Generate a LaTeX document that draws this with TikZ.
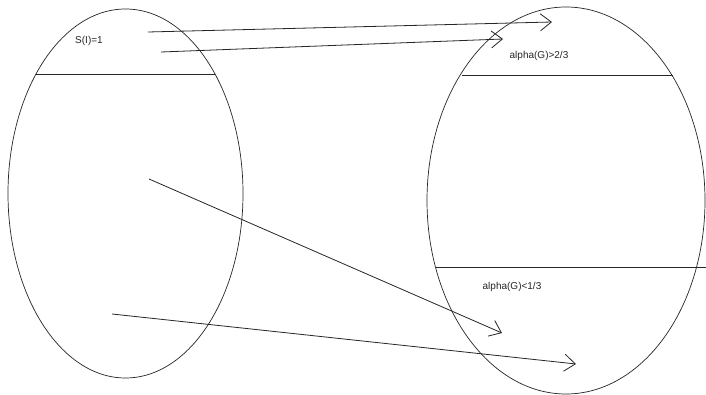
\documentclass[tikz,border=0pt]{standalone}
\usepackage{fontspec}
\setmainfont{Liberation Sans}
\usetikzlibrary{shapes.geometric,arrows.meta}
\begin{document}
\begin{tikzpicture}[x=1pt,y=-1pt,
  setshape/.style={draw=black!85, line width=0.7pt, ellipse, inner sep=0pt},
  divider/.style={draw=black!85, line width=0.8pt},
  maparrow/.style={draw=black!85, line width=0.8pt, -{Straight Barb[length=11pt,width=17pt,line width=0.8pt]}},
  lbl/.style={font=\fontsize{10}{12}\selectfont, text=black!85, inner sep=0pt}]
\useasboundingbox (0,0) rectangle (706,395);
\fill[white] (0,0) rectangle (706,395);
% ellipses
\node[setshape, minimum width=235pt, minimum height=369pt] (L) at (125.5,193.5) {};
\node[setshape, minimum width=278pt, minimum height=387pt] (R) at (566,200.5) {};
% dividing lines
\draw[divider] (36,74) -- (215,74);
\draw[divider] (462,75) -- (673,75);
\draw[divider] (436,267) -- (706,267);
% labels
\node[lbl] (sI) at (89,41) {S(I)=1};
\node[lbl] (aHigh) at (539,56) {alpha(G)>2/3};
\node[lbl] (aLow) at (512,287) {alpha(G)<1/3};
% arrow ends
\coordinate (s1) at (148,32);  \coordinate (e1) at (552,22);
\coordinate (s2) at (161,52);  \coordinate (e2) at (503,39);
\coordinate (s3) at (149,179); \coordinate (e3) at (502,333);
\coordinate (s4) at (112,314); \coordinate (e4) at (576,364);
\draw[maparrow] (s1) -- (e1);
\draw[maparrow] (s2) -- (e2);
\draw[maparrow] (s3) -- (e3);
\draw[maparrow] (s4) -- (e4);
\end{tikzpicture}
\end{document}
